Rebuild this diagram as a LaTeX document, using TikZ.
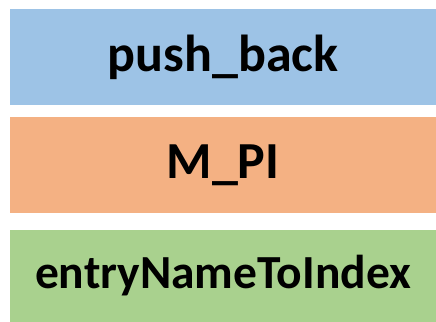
\documentclass[tikz,border=0pt]{standalone}
\usepackage{fontspec}
\setmainfont{Carlito}
\usepackage{tikz}
\usetikzlibrary{positioning}
\definecolor{bluebox}{HTML}{9DC3E6}
\definecolor{orangebox}{HTML}{F4B183}
\definecolor{greenbox}{HTML}{A9D18E}
\tikzset{every node/.append style={font=\bfseries\fontsize{52}{56}\selectfont}}
\tikzset{namebox/.style={rectangle,inner sep=0pt,minimum width=426pt,minimum height=95.7pt}}

\begin{document}
\begin{tikzpicture}[x=1pt,y=-1pt]
\useasboundingbox (0,0) rectangle (436,321);
\node[namebox,fill=bluebox] (pb) at (223,56.85) {push\_back};
\node[namebox,fill=orangebox,below=12.3pt of pb] (mpi) {M\_PI};
\node[namebox,fill=greenbox,minimum height=92pt,below=16.3pt of mpi,
  font=\bfseries\fontsize{47.5}{52}\selectfont] (entry) {entryNameToIndex};
\end{tikzpicture}
\end{document}
